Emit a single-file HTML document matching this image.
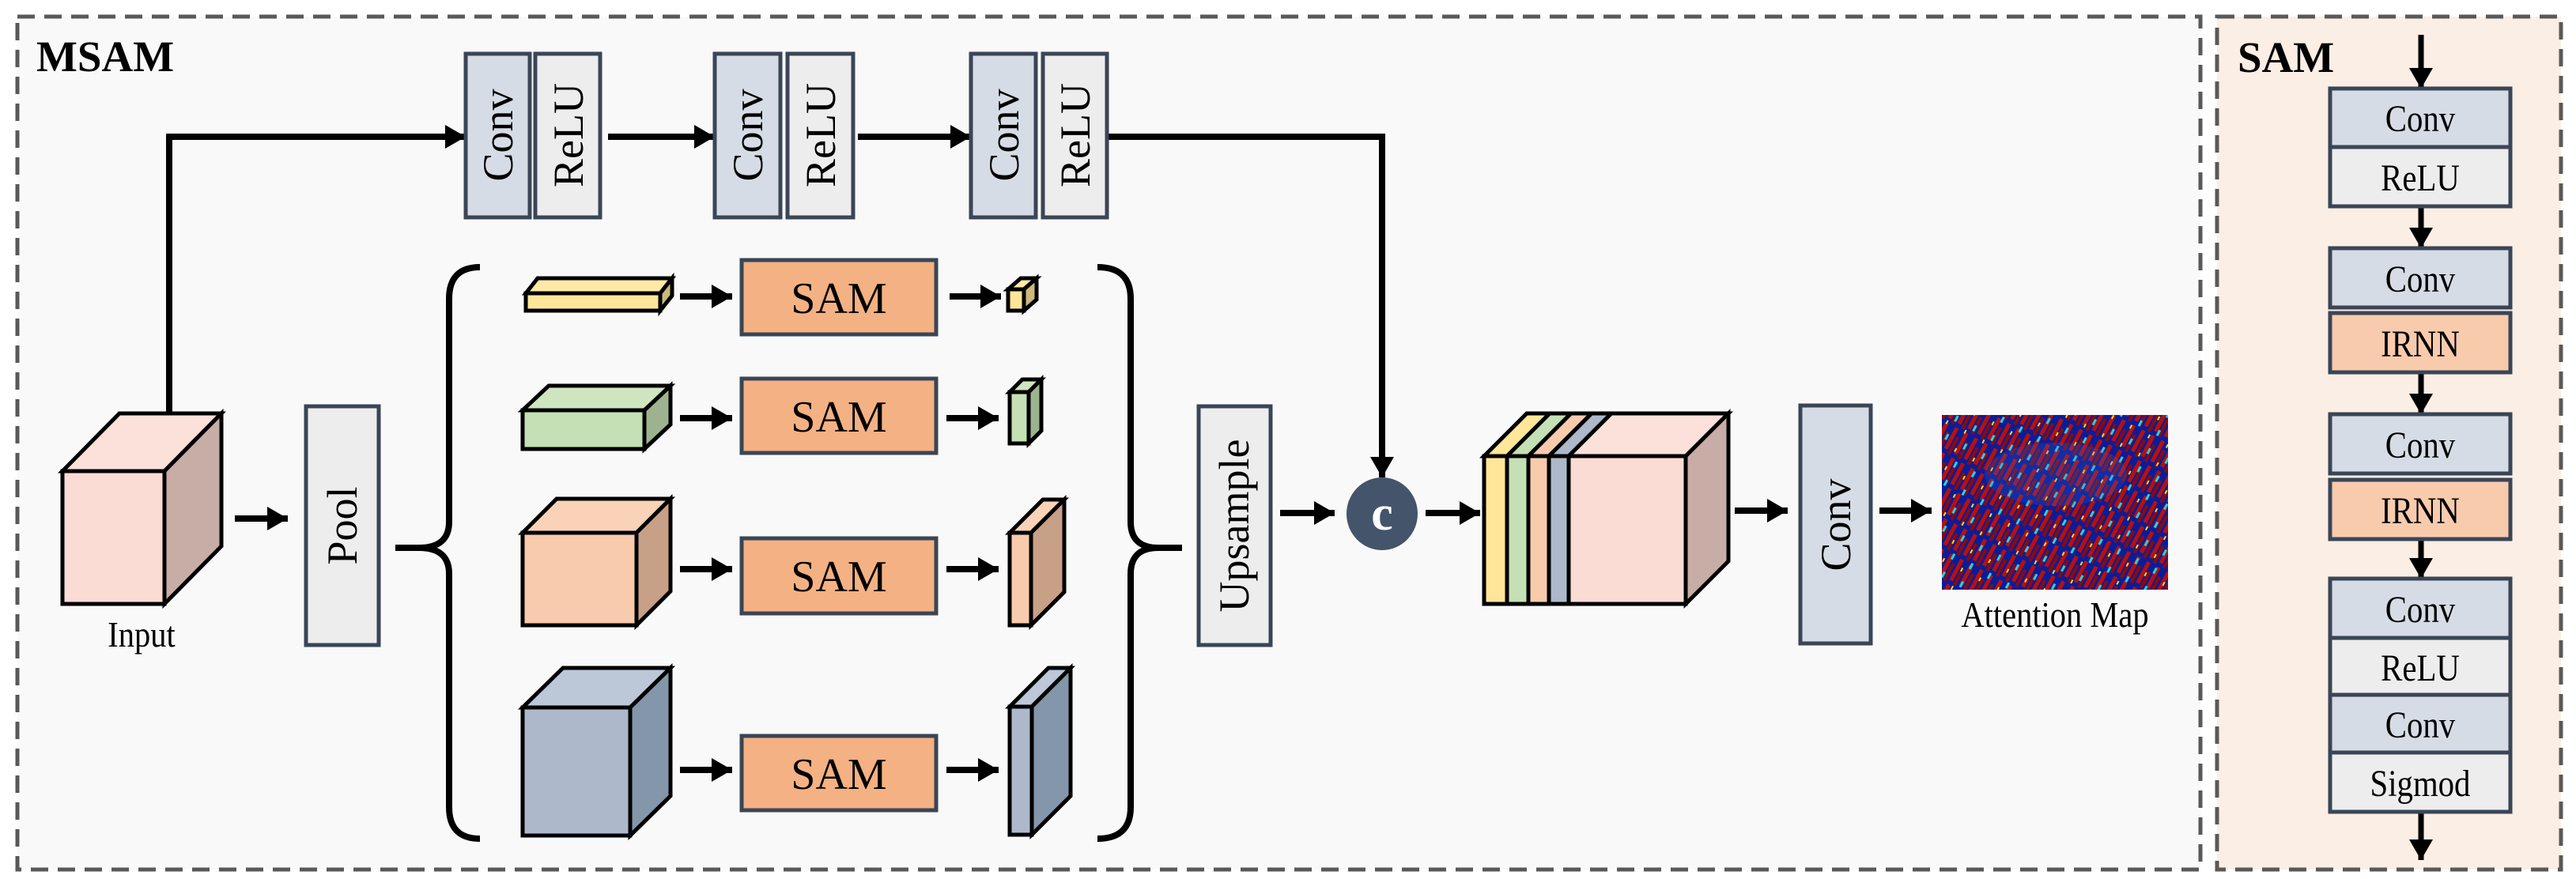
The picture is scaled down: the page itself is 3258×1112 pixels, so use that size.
<!DOCTYPE html>
<html><head><meta charset="utf-8"><style>
html,body{margin:0;padding:0;background:#fff;}
svg{display:block;}
text{font-family:"Liberation Serif",serif;}
</style></head><body>
<svg width="3258" height="1112" viewBox="0 0 3258 1112" xmlns="http://www.w3.org/2000/svg">
<defs>
<marker id="ah" markerUnits="userSpaceOnUse" markerWidth="30" markerHeight="30" refX="26" refY="15" orient="auto">
<path d="M0,0 L26,15 L0,30 Z" fill="#000"/>
</marker>
<pattern id="streak" width="14" height="36" patternUnits="userSpaceOnUse" patternTransform="rotate(28)">
<rect x="1" y="0" width="5" height="30" fill="#b8100c"/>
<rect x="8" y="10" width="4" height="24" fill="#8a0a0e"/>
</pattern>
<pattern id="spec" width="26" height="26" patternUnits="userSpaceOnUse" patternTransform="rotate(28)">
<rect x="14" y="4" width="3" height="8" fill="#22d4e0"/>
<rect x="6" y="15" width="2" height="5" fill="#f0e020"/>
</pattern>
<clipPath id="amc"><rect x="2456" y="525" width="286" height="221"/></clipPath>
</defs>

<rect x="22" y="21" width="2761" height="1079" fill="#f9f9f9" stroke="#595959" stroke-width="5" stroke-dasharray="22,12"/>
<rect x="2804" y="21" width="435" height="1079" fill="#fbeee4" stroke="#595959" stroke-width="5" stroke-dasharray="22,12"/>
<text x="46" y="90" font-size="55" font-weight="bold">MSAM</text>
<text x="2830" y="91" font-size="55" font-weight="bold">SAM</text>

<g stroke="#000" stroke-width="8" fill="none">
<path d="M214,523 L214,173 L589,173" marker-end="url(#ah)"/>
<line x1="769" y1="173" x2="904" y2="173" marker-end="url(#ah)"/>
<line x1="1085" y1="173" x2="1228" y2="173" marker-end="url(#ah)"/>
<path d="M1400,173 L1748,173 L1748,604" marker-end="url(#ah)"/>
</g>

<g stroke="#3a4556" stroke-width="5">
<rect x="589" y="68" width="81" height="207" fill="#d6dce5"/>
<rect x="677" y="68" width="82" height="207" fill="#ededed"/>
<rect x="904" y="68" width="83" height="207" fill="#d6dce5"/>
<rect x="996" y="68" width="83" height="207" fill="#ededed"/>
<rect x="1228" y="68" width="82" height="207" fill="#d6dce5"/>
<rect x="1319" y="68" width="81" height="207" fill="#ededed"/>
</g>
<g font-size="54" text-anchor="middle">
<text transform="translate(648,171) rotate(-90)">Conv</text>
<text transform="translate(737,171) rotate(-90)">ReLU</text>
<text transform="translate(964,171) rotate(-90)">Conv</text>
<text transform="translate(1056,171) rotate(-90)">ReLU</text>
<text transform="translate(1288,171) rotate(-90)">Conv</text>
<text transform="translate(1378,171) rotate(-90)">ReLU</text>
</g>

<g stroke="#000" stroke-width="5" stroke-linejoin="miter">
<polygon points="79,596 151,523 280,523 208,596" fill="#fce0da"/>
<polygon points="208,596 280,523 280,691 208,764" fill="#c8aca6"/>
<rect x="79" y="596" width="129" height="168" fill="#fbdcd5"/>
</g>
<text x="179" y="818" font-size="46" text-anchor="middle" transform="translate(179,0) scale(0.88,1) translate(-179,0)">Input</text>

<line x1="297" y1="656" x2="364" y2="656" stroke="#000" stroke-width="8" marker-end="url(#ah)"/>
<rect x="387" y="514" width="92" height="302" fill="#ededed" stroke="#3a4556" stroke-width="5"/>
<text transform="translate(451,665) rotate(-90)" font-size="54" text-anchor="middle">Pool</text>

<g stroke="#000" stroke-width="8" fill="none">
<path d="M607,338 Q568,338 568,378 L568,660 Q568,693 530,693 L500,693 M530,693 Q568,693 568,726 L568,1021 Q568,1061 607,1061"/>
<path d="M1388,338 Q1430,338 1430,378 L1430,660 Q1430,693 1465,693 L1495,693 M1465,693 Q1430,693 1430,726 L1430,1021 Q1430,1061 1388,1061"/>
</g>

<g stroke="#000" stroke-width="5">
<polygon points="665,371 680,352 850,352 835,371" fill="#ffe9a6"/>
<polygon points="835,371 850,352 850,374 835,393" fill="#ccb97a"/>
<rect x="665" y="371" width="170" height="22" fill="#ffe699"/>
<polygon points="661,519 694,488 848,488 815,519" fill="#cfe5c0"/>
<polygon points="815,519 848,488 848,537 815,568" fill="#9db38f"/>
<rect x="661" y="519" width="154" height="49" fill="#c5e0b4"/>
<polygon points="661,674 704,631 848,631 805,674" fill="#f9d2b8"/>
<polygon points="805,674 848,631 848,748 805,791" fill="#c8a088"/>
<rect x="661" y="674" width="144" height="117" fill="#f8cbad"/>
<polygon points="661,895 712,845 848,845 797,895" fill="#bcc8d8"/>
<polygon points="797,895 848,845 848,1007 797,1057" fill="#8496a9"/>
<rect x="661" y="895" width="136" height="162" fill="#adb9ca"/>

<polygon points="1275,366 1291,352 1311,352 1295,366" fill="#ffe9a6"/>
<polygon points="1295,366 1311,352 1311,379 1295,393" fill="#ccb97a"/>
<rect x="1275" y="366" width="20" height="27" fill="#ffe699"/>
<polygon points="1277,496 1293,480 1317,480 1301,496" fill="#cfe5c0"/>
<polygon points="1301,496 1317,480 1317,545 1301,561" fill="#9db38f"/>
<rect x="1277" y="496" width="24" height="65" fill="#c5e0b4"/>
<polygon points="1277,674 1319,632 1346,632 1304,674" fill="#f9d2b8"/>
<polygon points="1304,674 1346,632 1346,749 1304,791" fill="#c8a088"/>
<rect x="1277" y="674" width="27" height="117" fill="#f8cbad"/>
<polygon points="1277,894 1326,845 1354,845 1305,894" fill="#bcc8d8"/>
<polygon points="1305,894 1354,845 1354,1007 1305,1056" fill="#8496a9"/>
<rect x="1277" y="894" width="28" height="162" fill="#adb9ca"/>
</g>

<g stroke="#000" stroke-width="8" marker-end="url(#ah)">
<line x1="860" y1="375" x2="926" y2="375"/>
<line x1="1201" y1="375" x2="1266" y2="375"/>
<line x1="860" y1="529" x2="926" y2="529"/>
<line x1="1197" y1="529" x2="1263" y2="529"/>
<line x1="860" y1="720" x2="926" y2="720"/>
<line x1="1197" y1="720" x2="1263" y2="720"/>
<line x1="860" y1="974" x2="926" y2="974"/>
<line x1="1197" y1="974" x2="1263" y2="974"/>
</g>

<g stroke="#3a4556" stroke-width="5" fill="#f4b183">
<rect x="938" y="329" width="246" height="94"/>
<rect x="938" y="479" width="246" height="94"/>
<rect x="938" y="681" width="246" height="95"/>
<rect x="938" y="931" width="246" height="94"/>
</g>
<g font-size="56" text-anchor="middle">
<text x="1061" y="396">SAM</text>
<text x="1061" y="546">SAM</text>
<text x="1061" y="748">SAM</text>
<text x="1061" y="998">SAM</text>
</g>

<rect x="1516" y="514" width="91" height="302" fill="#ededed" stroke="#3a4556" stroke-width="5"/>
<text transform="translate(1579,665) rotate(-90)" font-size="54" text-anchor="middle">Upsample</text>
<line x1="1619" y1="649" x2="1688" y2="649" stroke="#000" stroke-width="8" marker-end="url(#ah)"/>
<ellipse cx="1748" cy="650" rx="45" ry="46" fill="#44546a"/>
<text x="1748" y="670" font-size="62" fill="#fff" text-anchor="middle" font-weight="bold">c</text>
<line x1="1803" y1="649" x2="1872" y2="649" stroke="#000" stroke-width="8" marker-end="url(#ah)"/>

<g stroke="#000" stroke-width="5">
<polygon points="1877,577 1931,523 1960,523 1906,577" fill="#ffe699"/>
<polygon points="1906,577 1960,523 1987,523 1933,577" fill="#c5e0b4"/>
<polygon points="1933,577 1987,523 2013,523 1959,577" fill="#f8cbad"/>
<polygon points="1959,577 2013,523 2038,523 1984,577" fill="#adb9ca"/>
<polygon points="1984,577 2038,523 2186,523 2132,577" fill="#fce0da"/>
<polygon points="2132,577 2186,523 2186,710 2132,764" fill="#c8aca6"/>
<rect x="1877" y="577" width="29" height="187" fill="#ffe699"/>
<rect x="1906" y="577" width="27" height="187" fill="#c5e0b4"/>
<rect x="1933" y="577" width="26" height="187" fill="#f8cbad"/>
<rect x="1959" y="577" width="25" height="187" fill="#adb9ca"/>
<rect x="1984" y="577" width="148" height="187" fill="#fbdcd5"/>
</g>

<line x1="2194" y1="646" x2="2261" y2="646" stroke="#000" stroke-width="8" marker-end="url(#ah)"/>
<rect x="2277" y="513" width="89" height="301" fill="#d6dce5" stroke="#3a4556" stroke-width="5"/>
<text transform="translate(2340,664) rotate(-90)" font-size="54" text-anchor="middle">Conv</text>
<line x1="2377" y1="646" x2="2443" y2="646" stroke="#000" stroke-width="8" marker-end="url(#ah)"/>

<g clip-path="url(#amc)">
<rect x="2456" y="525" width="286" height="221" fill="#0c1c98"/>
<rect x="2456" y="525" width="286" height="221" fill="url(#streak)"/>
<rect x="2456" y="525" width="286" height="221" fill="url(#spec)"/>
<ellipse cx="2600" cy="600" rx="90" ry="40" fill="#2a70e0" opacity="0.2"/>
</g>
<text x="2599" y="793" font-size="46" text-anchor="middle" transform="translate(2599,0) scale(0.88,1) translate(-2599,0)">Attention Map</text>

<g stroke="#000" stroke-width="7" marker-end="url(#ah)">
<line x1="3062" y1="44" x2="3062" y2="112"/>
<line x1="3062" y1="261" x2="3062" y2="314"/>
<line x1="3062" y1="471" x2="3062" y2="524"/>
<line x1="3062" y1="682" x2="3062" y2="732"/>
<line x1="3062" y1="1027" x2="3062" y2="1088"/>
</g>
<g stroke="#3a4556" stroke-width="5">
<rect x="2947" y="112" width="228" height="74" fill="#d6dce5"/>
<rect x="2947" y="186" width="228" height="75" fill="#ededed"/>
<rect x="2947" y="314" width="228" height="75" fill="#d6dce5"/>
<rect x="2947" y="396" width="228" height="75" fill="#f8cbad"/>
<rect x="2947" y="524" width="228" height="75" fill="#d6dce5"/>
<rect x="2947" y="607" width="228" height="75" fill="#f8cbad"/>
<rect x="2947" y="732" width="228" height="75" fill="#d6dce5"/>
<rect x="2947" y="807" width="228" height="72" fill="#ededed"/>
<rect x="2947" y="879" width="228" height="73" fill="#d6dce5"/>
<rect x="2947" y="952" width="228" height="75" fill="#ededed"/>
</g>
<g font-size="48" text-anchor="middle" transform="translate(3061,0) scale(0.85,1) translate(-3061,0)">
<text x="3061" y="166">Conv</text>
<text x="3061" y="241">ReLU</text>
<text x="3061" y="369">Conv</text>
<text x="3061" y="451">IRNN</text>
<text x="3061" y="579">Conv</text>
<text x="3061" y="662">IRNN</text>
<text x="3061" y="787">Conv</text>
<text x="3061" y="861">ReLU</text>
<text x="3061" y="933">Conv</text>
<text x="3061" y="1007">Sigmod</text>
</g>
</svg>
</body></html>
